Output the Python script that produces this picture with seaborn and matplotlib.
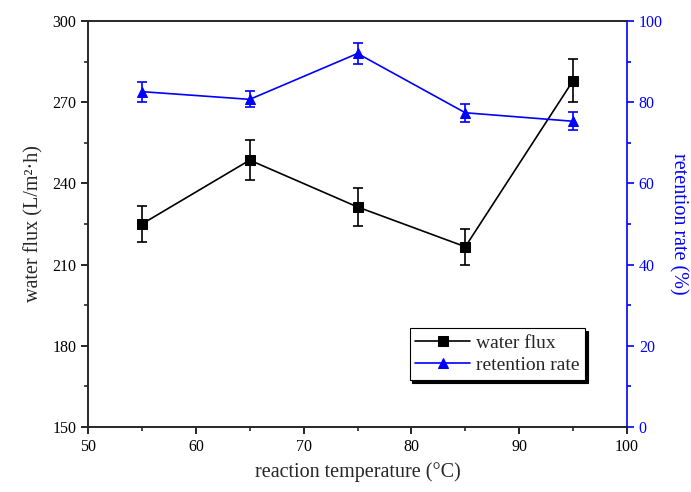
import matplotlib
matplotlib.use("Agg")
import matplotlib.pyplot as plt
import seaborn as sns
import pandas as pd
from matplotlib.ticker import AutoMinorLocator

# values
temperature = [55, 65, 75, 85, 95]
water_flux = [225.0, 248.6, 231.3, 216.6, 278.0]
flux_err = [6.7, 7.5, 7.0, 6.7, 8.0]
retention = [82.6, 80.7, 92.0, 77.4, 75.3]
retention_err = [2.5, 2.0, 2.7, 2.2, 2.2]

df = pd.DataFrame({"temperature": temperature, "water_flux": water_flux,
                   "retention": retention})

sns.set_style("ticks")
plt.rcParams["font.family"] = ["Liberation Serif", "DejaVu Serif"]
plt.rcParams["xtick.direction"] = "out"
plt.rcParams["ytick.direction"] = "out"

fig = plt.figure(figsize=(6.91, 4.92), dpi=100)
ax = fig.add_axes([0.1274, 0.1321, 0.78, 0.8252])
ax2 = ax.twinx()

# water flux (left axis)
ax.errorbar(temperature, water_flux, yerr=flux_err, fmt="none", ecolor="black",
            elinewidth=1.2, capsize=3.5, capthick=1.2, zorder=2)
sns.lineplot(data=df, x="temperature", y="water_flux", ax=ax, color="black",
             marker="s", markersize=6.5, markeredgecolor="black", linewidth=1.2,
             label="water flux", legend=False, zorder=3)

# retention rate (right axis)
ax2.errorbar(temperature, retention, yerr=retention_err, fmt="none", ecolor="blue",
             elinewidth=1.2, capsize=3.5, capthick=1.2, zorder=2)
sns.lineplot(data=df, x="temperature", y="retention", ax=ax2, color="blue",
             marker="^", markersize=7.5, markeredgecolor="blue", linewidth=1.2,
             label="retention rate", legend=False, zorder=3)

ax.set_xlim(50, 100)
ax.set_ylim(150, 300)
ax2.set_ylim(0, 100)
ax.set_xticks([50, 60, 70, 80, 90, 100])
ax.set_yticks([150, 180, 210, 240, 270, 300])
ax2.set_yticks([0, 20, 40, 60, 80, 100])
for a in (ax, ax2):
    a.xaxis.set_minor_locator(AutoMinorLocator(2))
    a.yaxis.set_minor_locator(AutoMinorLocator(2))

ax.tick_params(axis="both", which="major", labelsize=11.5, length=5, width=1.2,
               colors="black")
ax.tick_params(axis="both", which="minor", length=3, width=1.2)
ax2.tick_params(axis="y", which="major", labelsize=11.5, length=5, width=1.2,
                colors="blue")
ax2.tick_params(axis="y", which="minor", length=3, width=1.2, colors="blue")

ax.set_xlabel("reaction temperature (°C)", fontsize=14.5, labelpad=5)
ax.set_ylabel("water flux (L/m²·h)", fontsize=14.5, labelpad=6)
ax2.set_ylabel("retention rate (%)", fontsize=14.5, color="blue", rotation=270,
               labelpad=18)

for s in ("left", "bottom", "top"):
    ax.spines[s].set_linewidth(1.2)
    ax2.spines[s].set_linewidth(1.2)
ax2.spines["right"].set_color("blue")
ax2.spines["right"].set_linewidth(1.2)
ax.spines["right"].set_visible(False)

h1, l1 = ax.get_legend_handles_labels()
h2, l2 = ax2.get_legend_handles_labels()
leg = ax2.legend(h1 + h2, l1 + l2, loc="lower right", bbox_to_anchor=(0.922, 0.116),
                 fontsize=14, frameon=True, fancybox=False, edgecolor="black",
                 shadow={"color": "black", "alpha": 1.0}, numpoints=1,
                 handlelength=2.8, borderpad=0.3, labelspacing=0.25,
                 handletextpad=0.3, borderaxespad=0)
leg.get_frame().set_linewidth(0.8)

fig.savefig("out.png", dpi=100)
